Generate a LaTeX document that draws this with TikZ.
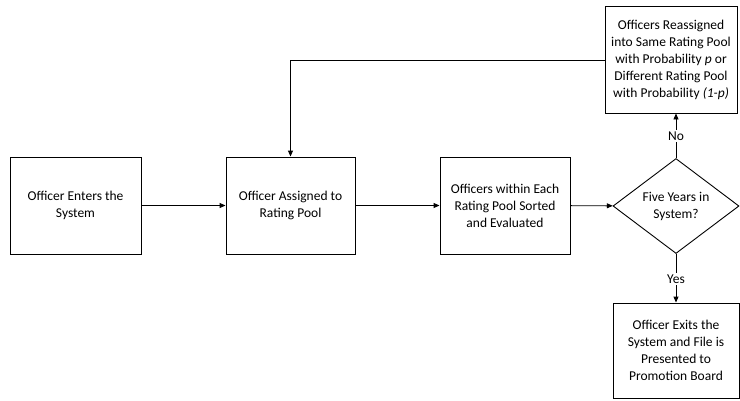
\documentclass[tikz,border=0pt]{standalone}
\usepackage{fontspec}
\setmainfont{Carlito}
\usetikzlibrary{shapes.geometric,arrows.meta}
\begin{document}
\begin{tikzpicture}[x=1pt,y=-1pt,
  every node/.style={font=\fontsize{13.5}{17}\selectfont, align=center, inner sep=0pt},
  box/.style={draw, line width=0.9pt},
  arr/.style={draw, line width=0.9pt, -{Triangle[length=6pt,width=5pt]}},
  lbl/.style={fill=white, inner sep=1.5pt}]
\useasboundingbox[fill=white] (0,0) rectangle (740,400);
\node[box, minimum width=131, minimum height=97] (enter) at (75.5,205.5) {Officer Enters the\\System};
\node[box, minimum width=129, minimum height=97] (assign) at (290.5,205.5) {Officer Assigned to\\Rating Pool};
\node[box, minimum width=130, minimum height=97] (sort) at (505,205.5) {Officers within Each\\Rating Pool Sorted\\and Evaluated};
\node[draw, line width=0.9pt, diamond, aspect=1.33, minimum width=126, minimum height=95] (five) at (676,206) {Five Years in\\System?};
\node[box, minimum width=132, minimum height=107] (reassign) at (671,59.5) {Officers Reassigned\\into Same Rating Pool\\with Probability \textit{p} or\\Different Rating Pool\\with Probability \textit{(1-p)}};
\node[box, minimum width=126, minimum height=95] (exit) at (676,350.5) {Officer Exits the\\System and File is\\Presented to\\Promotion Board};
\draw[arr] (enter) -- (assign);
\draw[arr] (assign) -- (sort);
\draw[arr] (sort) -- (five);
\draw[arr] (five.north) -- (five.north |- reassign.south);
\draw[arr] (five.south) -- (exit.north);
\draw[arr] (reassign.west |- 0,60) -| (assign.north);
\node[lbl] (no) at (676,136) {No};
\node[lbl] (yes) at (676,279) {Yes};
\end{tikzpicture}
\end{document}
